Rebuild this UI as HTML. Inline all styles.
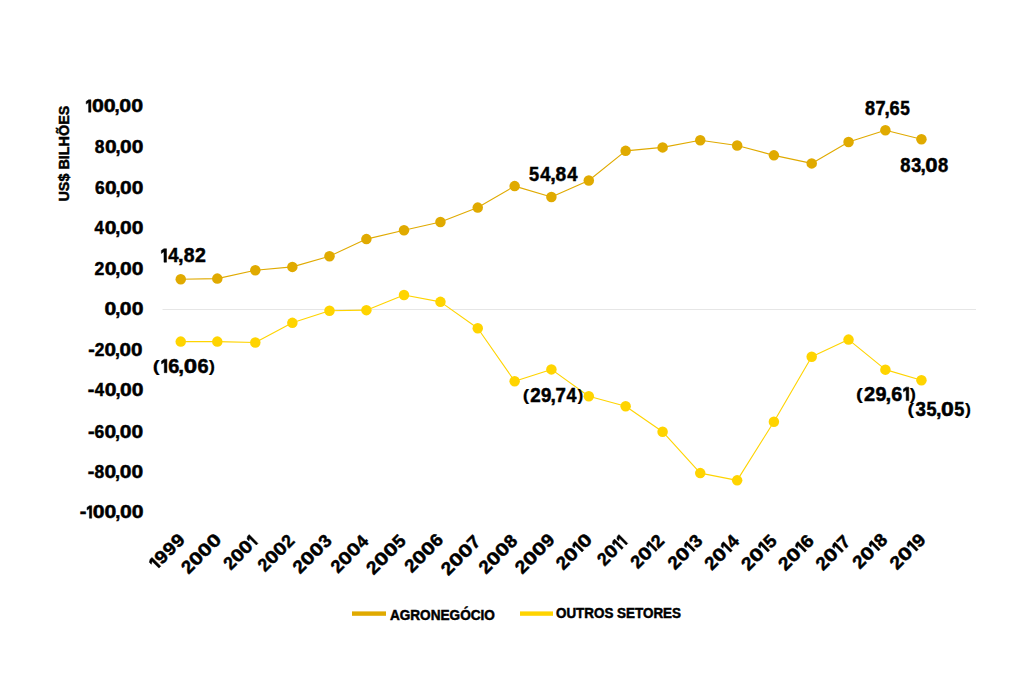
<!DOCTYPE html><html><head><meta charset="utf-8"><title>Balança comercial</title><style>html,body{margin:0;padding:0;background:#fff;}svg{display:block;}text{font-family:"Liberation Sans",sans-serif;font-weight:bold;fill:#000;stroke:#000;stroke-width:0.5px;}.g path{fill:#000;stroke:#000;stroke-width:0.5px;}.pp{stroke-width:0.2px;}</style></head><body>
<svg width="1024" height="697" viewBox="0 0 1024 697">
<rect width="1024" height="697" fill="#fff"/>
<line x1="162.5" y1="309.5" x2="976" y2="309.5" stroke="#e6e6e6" stroke-width="1"/>
<g class="g" transform="translate(142.3,112.2) scale(0.956,1) translate(-58.68,0)"><path d="M2.52 -12.42H4.95V0H2.52V-9.72L0 -8.1V-10.8Z"/><text x="5.946" y="0" font-size="18" textLength="12.431" lengthAdjust="spacingAndGlyphs">0</text><text x="18.456" y="0" font-size="18" textLength="12.431" lengthAdjust="spacingAndGlyphs">0</text><text x="29.7" y="0" font-size="18" textLength="5.361" lengthAdjust="spacingAndGlyphs">,</text><text x="34.656" y="0" font-size="18" textLength="12.431" lengthAdjust="spacingAndGlyphs">0</text><text x="47.166" y="0" font-size="18" textLength="12.431" lengthAdjust="spacingAndGlyphs">0</text></g>
<g class="g" transform="translate(142.6,152.8) scale(0.9374,1) translate(-50.4,0)"><text x="-0.556" y="0" font-size="18" textLength="10.311" lengthAdjust="spacingAndGlyphs">8</text><text x="10.176" y="0" font-size="18" textLength="12.431" lengthAdjust="spacingAndGlyphs">0</text><text x="21.42" y="0" font-size="18" textLength="5.361" lengthAdjust="spacingAndGlyphs">,</text><text x="26.376" y="0" font-size="18" textLength="12.431" lengthAdjust="spacingAndGlyphs">0</text><text x="38.886" y="0" font-size="18" textLength="12.431" lengthAdjust="spacingAndGlyphs">0</text></g>
<g class="g" transform="translate(142.6,193.9) scale(0.9374,1) translate(-50.22,0)"><text x="-0.649" y="0" font-size="18" textLength="10.318" lengthAdjust="spacingAndGlyphs">6</text><text x="9.996" y="0" font-size="18" textLength="12.431" lengthAdjust="spacingAndGlyphs">0</text><text x="21.24" y="0" font-size="18" textLength="5.361" lengthAdjust="spacingAndGlyphs">,</text><text x="26.196" y="0" font-size="18" textLength="12.431" lengthAdjust="spacingAndGlyphs">0</text><text x="38.706" y="0" font-size="18" textLength="12.431" lengthAdjust="spacingAndGlyphs">0</text></g>
<g class="g" transform="translate(142.5,234) scale(0.9412,1) translate(-50.76,0)"><text x="-0.267" y="0" font-size="18" textLength="9.914" lengthAdjust="spacingAndGlyphs">4</text><text x="10.536" y="0" font-size="18" textLength="12.431" lengthAdjust="spacingAndGlyphs">0</text><text x="21.78" y="0" font-size="18" textLength="5.361" lengthAdjust="spacingAndGlyphs">,</text><text x="26.736" y="0" font-size="18" textLength="12.431" lengthAdjust="spacingAndGlyphs">0</text><text x="39.246" y="0" font-size="18" textLength="12.431" lengthAdjust="spacingAndGlyphs">0</text></g>
<g class="g" transform="translate(142.5,275.1) scale(0.9414,1) translate(-50.22,0)"><text x="-0.656" y="0" font-size="18" textLength="10.425" lengthAdjust="spacingAndGlyphs">2</text><text x="9.996" y="0" font-size="18" textLength="12.431" lengthAdjust="spacingAndGlyphs">0</text><text x="21.24" y="0" font-size="18" textLength="5.361" lengthAdjust="spacingAndGlyphs">,</text><text x="26.196" y="0" font-size="18" textLength="12.431" lengthAdjust="spacingAndGlyphs">0</text><text x="38.706" y="0" font-size="18" textLength="12.431" lengthAdjust="spacingAndGlyphs">0</text></g>
<g class="g" transform="translate(142.6,315.2) scale(0.9459,1) translate(-39.33,0)"><text x="-0.894" y="0" font-size="18" textLength="12.431" lengthAdjust="spacingAndGlyphs">0</text><text x="10.35" y="0" font-size="18" textLength="5.361" lengthAdjust="spacingAndGlyphs">,</text><text x="15.306" y="0" font-size="18" textLength="12.431" lengthAdjust="spacingAndGlyphs">0</text><text x="27.816" y="0" font-size="18" textLength="12.431" lengthAdjust="spacingAndGlyphs">0</text></g>
<g class="g" transform="translate(141.7,356.3) scale(0.9244,1) translate(-57.06,0)"><text x="-0.847" y="0" font-size="18" textLength="7.052" lengthAdjust="spacingAndGlyphs">-</text><text x="6.184" y="0" font-size="18" textLength="10.425" lengthAdjust="spacingAndGlyphs">2</text><text x="16.836" y="0" font-size="18" textLength="12.431" lengthAdjust="spacingAndGlyphs">0</text><text x="28.08" y="0" font-size="18" textLength="5.361" lengthAdjust="spacingAndGlyphs">,</text><text x="33.036" y="0" font-size="18" textLength="12.431" lengthAdjust="spacingAndGlyphs">0</text><text x="45.546" y="0" font-size="18" textLength="12.431" lengthAdjust="spacingAndGlyphs">0</text></g>
<g class="g" transform="translate(142.7,396.4) scale(0.9418,1) translate(-57.6,0)"><text x="-0.847" y="0" font-size="18" textLength="7.052" lengthAdjust="spacingAndGlyphs">-</text><text x="6.573" y="0" font-size="18" textLength="9.914" lengthAdjust="spacingAndGlyphs">4</text><text x="17.376" y="0" font-size="18" textLength="12.431" lengthAdjust="spacingAndGlyphs">0</text><text x="28.62" y="0" font-size="18" textLength="5.361" lengthAdjust="spacingAndGlyphs">,</text><text x="33.576" y="0" font-size="18" textLength="12.431" lengthAdjust="spacingAndGlyphs">0</text><text x="46.086" y="0" font-size="18" textLength="12.431" lengthAdjust="spacingAndGlyphs">0</text></g>
<g class="g" transform="translate(142.3,437.5) scale(0.938,1) translate(-57.06,0)"><text x="-0.847" y="0" font-size="18" textLength="7.052" lengthAdjust="spacingAndGlyphs">-</text><text x="6.191" y="0" font-size="18" textLength="10.318" lengthAdjust="spacingAndGlyphs">6</text><text x="16.836" y="0" font-size="18" textLength="12.431" lengthAdjust="spacingAndGlyphs">0</text><text x="28.08" y="0" font-size="18" textLength="5.361" lengthAdjust="spacingAndGlyphs">,</text><text x="33.036" y="0" font-size="18" textLength="12.431" lengthAdjust="spacingAndGlyphs">0</text><text x="45.546" y="0" font-size="18" textLength="12.431" lengthAdjust="spacingAndGlyphs">0</text></g>
<g class="g" transform="translate(142.3,477.6) scale(0.938,1) translate(-57.24,0)"><text x="-0.847" y="0" font-size="18" textLength="7.052" lengthAdjust="spacingAndGlyphs">-</text><text x="6.284" y="0" font-size="18" textLength="10.311" lengthAdjust="spacingAndGlyphs">8</text><text x="17.016" y="0" font-size="18" textLength="12.431" lengthAdjust="spacingAndGlyphs">0</text><text x="28.26" y="0" font-size="18" textLength="5.361" lengthAdjust="spacingAndGlyphs">,</text><text x="33.216" y="0" font-size="18" textLength="12.431" lengthAdjust="spacingAndGlyphs">0</text><text x="45.726" y="0" font-size="18" textLength="12.431" lengthAdjust="spacingAndGlyphs">0</text></g>
<g class="g" transform="translate(142.7,518.2) scale(0.9488,1) translate(-65.52,0)"><text x="-0.847" y="0" font-size="18" textLength="7.052" lengthAdjust="spacingAndGlyphs">-</text><path d="M9.36 -12.42H11.79V0H9.36V-9.72L6.84 -8.1V-10.8Z"/><text x="12.786" y="0" font-size="18" textLength="12.431" lengthAdjust="spacingAndGlyphs">0</text><text x="25.296" y="0" font-size="18" textLength="12.431" lengthAdjust="spacingAndGlyphs">0</text><text x="36.54" y="0" font-size="18" textLength="5.361" lengthAdjust="spacingAndGlyphs">,</text><text x="41.496" y="0" font-size="18" textLength="12.431" lengthAdjust="spacingAndGlyphs">0</text><text x="54.006" y="0" font-size="18" textLength="12.431" lengthAdjust="spacingAndGlyphs">0</text></g>
<text transform="translate(68.8,153.6) rotate(-90)" text-anchor="middle" font-size="15" textLength="96" lengthAdjust="spacingAndGlyphs">US$ BILHÕES</text>
<g class="g" transform="translate(185.6,541.4) rotate(-45) scale(1.0752,1) translate(-37.62,0)"><path d="M2.52 -12.42H4.95V0H2.52V-9.72L0 -8.1V-10.8Z"/><text x="6.191" y="0" font-size="18" textLength="10.318" lengthAdjust="spacingAndGlyphs">9</text><text x="17.081" y="0" font-size="18" textLength="10.318" lengthAdjust="spacingAndGlyphs">9</text><text x="27.971" y="0" font-size="18" textLength="10.318" lengthAdjust="spacingAndGlyphs">9</text></g>
<g class="g" transform="translate(221.78,541.4) rotate(-45) scale(1.0,1) translate(-46.53,0)"><text x="-0.656" y="0" font-size="18" textLength="10.425" lengthAdjust="spacingAndGlyphs">2</text><text x="9.996" y="0" font-size="18" textLength="12.431" lengthAdjust="spacingAndGlyphs">0</text><text x="22.506" y="0" font-size="18" textLength="12.431" lengthAdjust="spacingAndGlyphs">0</text><text x="35.016" y="0" font-size="18" textLength="12.431" lengthAdjust="spacingAndGlyphs">0</text></g>
<g class="g" transform="translate(257.96,543.4) rotate(-45) scale(0.9308,1) translate(-40.86,0)"><text x="-0.656" y="0" font-size="18" textLength="10.425" lengthAdjust="spacingAndGlyphs">2</text><text x="9.996" y="0" font-size="18" textLength="12.431" lengthAdjust="spacingAndGlyphs">0</text><text x="22.506" y="0" font-size="18" textLength="12.431" lengthAdjust="spacingAndGlyphs">0</text><path d="M38.43 -12.42H40.86V0H38.43V-9.72L35.91 -8.1V-10.8Z"/></g>
<g class="g" transform="translate(295.14,542.4) rotate(-45) scale(0.937,1) translate(-44.91,0)"><text x="-0.656" y="0" font-size="18" textLength="10.425" lengthAdjust="spacingAndGlyphs">2</text><text x="9.996" y="0" font-size="18" textLength="12.431" lengthAdjust="spacingAndGlyphs">0</text><text x="22.506" y="0" font-size="18" textLength="12.431" lengthAdjust="spacingAndGlyphs">0</text><text x="35.254" y="0" font-size="18" textLength="10.425" lengthAdjust="spacingAndGlyphs">2</text></g>
<g class="g" transform="translate(332.32,542.4) rotate(-45) scale(1.0,1) translate(-44.91,0)"><text x="-0.656" y="0" font-size="18" textLength="10.425" lengthAdjust="spacingAndGlyphs">2</text><text x="9.996" y="0" font-size="18" textLength="12.431" lengthAdjust="spacingAndGlyphs">0</text><text x="22.506" y="0" font-size="18" textLength="12.431" lengthAdjust="spacingAndGlyphs">0</text><text x="35.455" y="0" font-size="18" textLength="10.109" lengthAdjust="spacingAndGlyphs">3</text></g>
<g class="g" transform="translate(369.5,542.4) rotate(-45) scale(0.9689,1) translate(-45.45,0)"><text x="-0.656" y="0" font-size="18" textLength="10.425" lengthAdjust="spacingAndGlyphs">2</text><text x="9.996" y="0" font-size="18" textLength="12.431" lengthAdjust="spacingAndGlyphs">0</text><text x="22.506" y="0" font-size="18" textLength="12.431" lengthAdjust="spacingAndGlyphs">0</text><text x="35.643" y="0" font-size="18" textLength="9.914" lengthAdjust="spacingAndGlyphs">4</text></g>
<g class="g" transform="translate(406.68,542.4) rotate(-45) scale(1.0316,1) translate(-44.73,0)"><text x="-0.656" y="0" font-size="18" textLength="10.425" lengthAdjust="spacingAndGlyphs">2</text><text x="9.996" y="0" font-size="18" textLength="12.431" lengthAdjust="spacingAndGlyphs">0</text><text x="22.506" y="0" font-size="18" textLength="12.431" lengthAdjust="spacingAndGlyphs">0</text><text x="35.381" y="0" font-size="18" textLength="9.808" lengthAdjust="spacingAndGlyphs">5</text></g>
<g class="g" transform="translate(443.86,541.4) rotate(-45) scale(1.0,1) translate(-44.91,0)"><text x="-0.656" y="0" font-size="18" textLength="10.425" lengthAdjust="spacingAndGlyphs">2</text><text x="9.996" y="0" font-size="18" textLength="12.431" lengthAdjust="spacingAndGlyphs">0</text><text x="22.506" y="0" font-size="18" textLength="12.431" lengthAdjust="spacingAndGlyphs">0</text><text x="35.261" y="0" font-size="18" textLength="10.318" lengthAdjust="spacingAndGlyphs">6</text></g>
<g class="g" transform="translate(481.24,543.4) rotate(-45) scale(1.0317,1) translate(-44.55,0)"><text x="-0.656" y="0" font-size="18" textLength="10.425" lengthAdjust="spacingAndGlyphs">2</text><text x="9.996" y="0" font-size="18" textLength="12.431" lengthAdjust="spacingAndGlyphs">0</text><text x="22.506" y="0" font-size="18" textLength="12.431" lengthAdjust="spacingAndGlyphs">0</text><text x="35.074" y="0" font-size="18" textLength="10.331" lengthAdjust="spacingAndGlyphs">7</text></g>
<g class="g" transform="translate(518.22,542.4) rotate(-45) scale(1.0,1) translate(-45.09,0)"><text x="-0.656" y="0" font-size="18" textLength="10.425" lengthAdjust="spacingAndGlyphs">2</text><text x="9.996" y="0" font-size="18" textLength="12.431" lengthAdjust="spacingAndGlyphs">0</text><text x="22.506" y="0" font-size="18" textLength="12.431" lengthAdjust="spacingAndGlyphs">0</text><text x="35.354" y="0" font-size="18" textLength="10.311" lengthAdjust="spacingAndGlyphs">8</text></g>
<g class="g" transform="translate(555.4,541.4) rotate(-45) scale(1.0315,1) translate(-44.91,0)"><text x="-0.656" y="0" font-size="18" textLength="10.425" lengthAdjust="spacingAndGlyphs">2</text><text x="9.996" y="0" font-size="18" textLength="12.431" lengthAdjust="spacingAndGlyphs">0</text><text x="22.506" y="0" font-size="18" textLength="12.431" lengthAdjust="spacingAndGlyphs">0</text><text x="35.261" y="0" font-size="18" textLength="10.318" lengthAdjust="spacingAndGlyphs">9</text></g>
<g class="g" transform="translate(592.58,541.4) rotate(-45) scale(1.0,1) translate(-40.86,0)"><text x="-0.656" y="0" font-size="18" textLength="10.425" lengthAdjust="spacingAndGlyphs">2</text><text x="9.996" y="0" font-size="18" textLength="12.431" lengthAdjust="spacingAndGlyphs">0</text><path d="M25.92 -12.42H28.35V0H25.92V-9.72L23.4 -8.1V-10.8Z"/><text x="29.346" y="0" font-size="18" textLength="12.431" lengthAdjust="spacingAndGlyphs">0</text></g>
<g class="g" transform="translate(627.76,543.4) rotate(-45) scale(0.9196,1) translate(-35.19,0)"><text x="-0.656" y="0" font-size="18" textLength="10.425" lengthAdjust="spacingAndGlyphs">2</text><text x="9.996" y="0" font-size="18" textLength="12.431" lengthAdjust="spacingAndGlyphs">0</text><path d="M25.92 -12.42H28.35V0H25.92V-9.72L23.4 -8.1V-10.8Z"/><path d="M32.76 -12.42H35.19V0H32.76V-9.72L30.24 -8.1V-10.8Z"/></g>
<g class="g" transform="translate(664.94,542.4) rotate(-45) scale(0.964,1) translate(-39.24,0)"><text x="-0.656" y="0" font-size="18" textLength="10.425" lengthAdjust="spacingAndGlyphs">2</text><text x="9.996" y="0" font-size="18" textLength="12.431" lengthAdjust="spacingAndGlyphs">0</text><path d="M25.92 -12.42H28.35V0H25.92V-9.72L23.4 -8.1V-10.8Z"/><text x="29.584" y="0" font-size="18" textLength="10.425" lengthAdjust="spacingAndGlyphs">2</text></g>
<g class="g" transform="translate(703.12,542.4) rotate(-45) scale(1.0,1) translate(-39.24,0)"><text x="-0.656" y="0" font-size="18" textLength="10.425" lengthAdjust="spacingAndGlyphs">2</text><text x="9.996" y="0" font-size="18" textLength="12.431" lengthAdjust="spacingAndGlyphs">0</text><path d="M25.92 -12.42H28.35V0H25.92V-9.72L23.4 -8.1V-10.8Z"/><text x="29.785" y="0" font-size="18" textLength="10.109" lengthAdjust="spacingAndGlyphs">3</text></g>
<g class="g" transform="translate(740.3,542.4) rotate(-45) scale(1.0,1) translate(-39.78,0)"><text x="-0.656" y="0" font-size="18" textLength="10.425" lengthAdjust="spacingAndGlyphs">2</text><text x="9.996" y="0" font-size="18" textLength="12.431" lengthAdjust="spacingAndGlyphs">0</text><path d="M25.92 -12.42H28.35V0H25.92V-9.72L23.4 -8.1V-10.8Z"/><text x="29.973" y="0" font-size="18" textLength="9.914" lengthAdjust="spacingAndGlyphs">4</text></g>
<g class="g" transform="translate(777.48,542.4) rotate(-45) scale(1.0362,1) translate(-39.06,0)"><text x="-0.656" y="0" font-size="18" textLength="10.425" lengthAdjust="spacingAndGlyphs">2</text><text x="9.996" y="0" font-size="18" textLength="12.431" lengthAdjust="spacingAndGlyphs">0</text><path d="M25.92 -12.42H28.35V0H25.92V-9.72L23.4 -8.1V-10.8Z"/><text x="29.711" y="0" font-size="18" textLength="9.808" lengthAdjust="spacingAndGlyphs">5</text></g>
<g class="g" transform="translate(814.66,542.4) rotate(-45) scale(1.036,1) translate(-39.24,0)"><text x="-0.656" y="0" font-size="18" textLength="10.425" lengthAdjust="spacingAndGlyphs">2</text><text x="9.996" y="0" font-size="18" textLength="12.431" lengthAdjust="spacingAndGlyphs">0</text><path d="M25.92 -12.42H28.35V0H25.92V-9.72L23.4 -8.1V-10.8Z"/><text x="29.591" y="0" font-size="18" textLength="10.318" lengthAdjust="spacingAndGlyphs">6</text></g>
<g class="g" transform="translate(851.04,543.4) rotate(-45) scale(1.0,1) translate(-38.88,0)"><text x="-0.656" y="0" font-size="18" textLength="10.425" lengthAdjust="spacingAndGlyphs">2</text><text x="9.996" y="0" font-size="18" textLength="12.431" lengthAdjust="spacingAndGlyphs">0</text><path d="M25.92 -12.42H28.35V0H25.92V-9.72L23.4 -8.1V-10.8Z"/><text x="29.404" y="0" font-size="18" textLength="10.331" lengthAdjust="spacingAndGlyphs">7</text></g>
<g class="g" transform="translate(888.02,541.4) rotate(-45) scale(1.0,1) translate(-39.42,0)"><text x="-0.656" y="0" font-size="18" textLength="10.425" lengthAdjust="spacingAndGlyphs">2</text><text x="9.996" y="0" font-size="18" textLength="12.431" lengthAdjust="spacingAndGlyphs">0</text><path d="M25.92 -12.42H28.35V0H25.92V-9.72L23.4 -8.1V-10.8Z"/><text x="29.684" y="0" font-size="18" textLength="10.311" lengthAdjust="spacingAndGlyphs">8</text></g>
<g class="g" transform="translate(926.2,541.4) rotate(-45) scale(1.036,1) translate(-39.24,0)"><text x="-0.656" y="0" font-size="18" textLength="10.425" lengthAdjust="spacingAndGlyphs">2</text><text x="9.996" y="0" font-size="18" textLength="12.431" lengthAdjust="spacingAndGlyphs">0</text><path d="M25.92 -12.42H28.35V0H25.92V-9.72L23.4 -8.1V-10.8Z"/><text x="29.591" y="0" font-size="18" textLength="10.318" lengthAdjust="spacingAndGlyphs">9</text></g>
<polyline points="180.75,279.2 217.3,278.6 255.3,270.3 292.35,266.9 329.5,256.2 366.4,239.1 404,230.2 440.45,222 477.75,207.6 514.65,186.1 551.4,197 588.8,180.5 625.65,150.85 662.6,147.4 700.25,140.3 737.15,145.45 773.9,155.35 811.7,163.4 848.55,142 885.4,130.3 921.45,139.3" fill="none" stroke="#e0aa00" stroke-width="1.1" stroke-linejoin="round"/>
<polyline points="180.75,341.6 217.3,341.6 255.3,342.5 292.35,322.85 329.5,310.8 366.4,310.15 404,295 440.45,301.85 477.75,328.2 514.65,381.2 551.4,369.4 588.8,396.2 625.65,406.2 662.6,431.7 700.25,473.1 737.15,480.35 773.9,421.7 811.7,356.7 848.55,339.6 885.4,369.65 921.45,380.3" fill="none" stroke="#ffd400" stroke-width="1.1" stroke-linejoin="round"/>
<circle cx="180.75" cy="279.2" r="5.25" fill="#e0aa00"/>
<circle cx="217.3" cy="278.6" r="5.25" fill="#e0aa00"/>
<circle cx="255.3" cy="270.3" r="5.25" fill="#e0aa00"/>
<circle cx="292.35" cy="266.9" r="5.25" fill="#e0aa00"/>
<circle cx="329.5" cy="256.2" r="5.25" fill="#e0aa00"/>
<circle cx="366.4" cy="239.1" r="5.25" fill="#e0aa00"/>
<circle cx="404" cy="230.2" r="5.25" fill="#e0aa00"/>
<circle cx="440.45" cy="222" r="5.25" fill="#e0aa00"/>
<circle cx="477.75" cy="207.6" r="5.25" fill="#e0aa00"/>
<circle cx="514.65" cy="186.1" r="5.25" fill="#e0aa00"/>
<circle cx="551.4" cy="197" r="5.25" fill="#e0aa00"/>
<circle cx="588.8" cy="180.5" r="5.25" fill="#e0aa00"/>
<circle cx="625.65" cy="150.85" r="5.25" fill="#e0aa00"/>
<circle cx="662.6" cy="147.4" r="5.25" fill="#e0aa00"/>
<circle cx="700.25" cy="140.3" r="5.25" fill="#e0aa00"/>
<circle cx="737.15" cy="145.45" r="5.25" fill="#e0aa00"/>
<circle cx="773.9" cy="155.35" r="5.25" fill="#e0aa00"/>
<circle cx="811.7" cy="163.4" r="5.25" fill="#e0aa00"/>
<circle cx="848.55" cy="142" r="5.25" fill="#e0aa00"/>
<circle cx="885.4" cy="130.3" r="5.25" fill="#e0aa00"/>
<circle cx="921.45" cy="139.3" r="5.25" fill="#e0aa00"/>
<circle cx="180.75" cy="341.6" r="5.25" fill="#ffd400"/>
<circle cx="217.3" cy="341.6" r="5.25" fill="#ffd400"/>
<circle cx="255.3" cy="342.5" r="5.25" fill="#ffd400"/>
<circle cx="292.35" cy="322.85" r="5.25" fill="#ffd400"/>
<circle cx="329.5" cy="310.8" r="5.25" fill="#ffd400"/>
<circle cx="366.4" cy="310.15" r="5.25" fill="#ffd400"/>
<circle cx="404" cy="295" r="5.25" fill="#ffd400"/>
<circle cx="440.45" cy="301.85" r="5.25" fill="#ffd400"/>
<circle cx="477.75" cy="328.2" r="5.25" fill="#ffd400"/>
<circle cx="514.65" cy="381.2" r="5.25" fill="#ffd400"/>
<circle cx="551.4" cy="369.4" r="5.25" fill="#ffd400"/>
<circle cx="588.8" cy="396.2" r="5.25" fill="#ffd400"/>
<circle cx="625.65" cy="406.2" r="5.25" fill="#ffd400"/>
<circle cx="662.6" cy="431.7" r="5.25" fill="#ffd400"/>
<circle cx="700.25" cy="473.1" r="5.25" fill="#ffd400"/>
<circle cx="737.15" cy="480.35" r="5.25" fill="#ffd400"/>
<circle cx="773.9" cy="421.7" r="5.25" fill="#ffd400"/>
<circle cx="811.7" cy="356.7" r="5.25" fill="#ffd400"/>
<circle cx="848.55" cy="339.6" r="5.25" fill="#ffd400"/>
<circle cx="885.4" cy="369.65" r="5.25" fill="#ffd400"/>
<circle cx="921.45" cy="380.3" r="5.25" fill="#ffd400"/>
<g class="g" transform="translate(183.25,262.2) scale(0.962,1) translate(-22.77,0)"><path d="M2.73 -13.455H5.363V0H2.73V-10.53L0 -8.775V-11.7Z"/><text x="7.12" y="0" font-size="19.5" textLength="10.741" lengthAdjust="spacingAndGlyphs">4</text><text x="17.453" y="0" font-size="19.5" textLength="5.808" lengthAdjust="spacingAndGlyphs">,</text><text x="23.187" y="0" font-size="19.5" textLength="11.171" lengthAdjust="spacingAndGlyphs">8</text><text x="35.072" y="0" font-size="19.5" textLength="11.294" lengthAdjust="spacingAndGlyphs">2</text></g>
<g class="g" transform="translate(553.5,181.3) scale(0.9531,1) translate(-25.16,0)"><text x="-0.573" y="0" font-size="19.5" textLength="10.625" lengthAdjust="spacingAndGlyphs">5</text><text x="11.313" y="0" font-size="19.5" textLength="10.741" lengthAdjust="spacingAndGlyphs">4</text><text x="21.645" y="0" font-size="19.5" textLength="5.808" lengthAdjust="spacingAndGlyphs">,</text><text x="27.38" y="0" font-size="19.5" textLength="11.171" lengthAdjust="spacingAndGlyphs">8</text><text x="39.685" y="0" font-size="19.5" textLength="10.741" lengthAdjust="spacingAndGlyphs">4</text></g>
<g class="g" transform="translate(887.5,114.5) scale(0.9026,1) translate(-24.38,0)"><text x="-0.603" y="0" font-size="19.5" textLength="11.171" lengthAdjust="spacingAndGlyphs">8</text><text x="11.087" y="0" font-size="19.5" textLength="11.192" lengthAdjust="spacingAndGlyphs">7</text><text x="21.06" y="0" font-size="19.5" textLength="5.808" lengthAdjust="spacingAndGlyphs">,</text><text x="26.694" y="0" font-size="19.5" textLength="11.177" lengthAdjust="spacingAndGlyphs">6</text><text x="38.622" y="0" font-size="19.5" textLength="10.625" lengthAdjust="spacingAndGlyphs">5</text></g>
<g class="g" transform="translate(924.25,171.5) scale(0.9154,1) translate(-25.64,0)"><text x="-0.603" y="0" font-size="19.5" textLength="11.171" lengthAdjust="spacingAndGlyphs">8</text><text x="11.5" y="0" font-size="19.5" textLength="10.952" lengthAdjust="spacingAndGlyphs">3</text><text x="21.45" y="0" font-size="19.5" textLength="5.808" lengthAdjust="spacingAndGlyphs">,</text><text x="26.819" y="0" font-size="19.5" textLength="13.467" lengthAdjust="spacingAndGlyphs">0</text><text x="40.737" y="0" font-size="19.5" textLength="11.171" lengthAdjust="spacingAndGlyphs">8</text></g>
<g class="g" transform="translate(184,372.7) scale(0.9935,1) translate(-30.37,0)"><g transform="translate(0,-0.877) scale(1,0.86)"><text class="pp" x="-1.045" y="0" font-size="19.5" textLength="6.957" lengthAdjust="spacingAndGlyphs">(</text></g><path d="M10.53 -13.455H13.163V0H10.53V-10.53L7.8 -8.775V-11.7Z"/><text x="14.506" y="0" font-size="19.5" textLength="11.177" lengthAdjust="spacingAndGlyphs">6</text><text x="24.668" y="0" font-size="19.5" textLength="5.808" lengthAdjust="spacingAndGlyphs">,</text><text x="30.036" y="0" font-size="19.5" textLength="13.467" lengthAdjust="spacingAndGlyphs">0</text><text x="43.854" y="0" font-size="19.5" textLength="11.177" lengthAdjust="spacingAndGlyphs">6</text><g transform="translate(0,-0.877) scale(1,0.86)"><text class="pp" x="55.383" y="0" font-size="19.5" textLength="6.262" lengthAdjust="spacingAndGlyphs">)</text></g></g>
<g class="g" transform="translate(553,401.9) scale(0.9253,1) translate(-31.79,0)"><g transform="translate(0,-0.877) scale(1,0.86)"><text class="pp" x="-1.045" y="0" font-size="19.5" textLength="6.957" lengthAdjust="spacingAndGlyphs">(</text></g><text x="7.089" y="0" font-size="19.5" textLength="11.294" lengthAdjust="spacingAndGlyphs">2</text><text x="18.894" y="0" font-size="19.5" textLength="11.177" lengthAdjust="spacingAndGlyphs">9</text><text x="29.055" y="0" font-size="19.5" textLength="5.808" lengthAdjust="spacingAndGlyphs">,</text><text x="34.487" y="0" font-size="19.5" textLength="11.192" lengthAdjust="spacingAndGlyphs">7</text><text x="46.51" y="0" font-size="19.5" textLength="10.741" lengthAdjust="spacingAndGlyphs">4</text><g transform="translate(0,-0.877) scale(1,0.86)"><text class="pp" x="58.211" y="0" font-size="19.5" textLength="6.262" lengthAdjust="spacingAndGlyphs">)</text></g></g>
<g class="g" transform="translate(886,400.6) scale(0.9865,1) translate(-29.49,0)"><g transform="translate(0,-0.877) scale(1,0.86)"><text class="pp" x="-1.045" y="0" font-size="19.5" textLength="6.957" lengthAdjust="spacingAndGlyphs">(</text></g><text x="7.089" y="0" font-size="19.5" textLength="11.294" lengthAdjust="spacingAndGlyphs">2</text><text x="18.894" y="0" font-size="19.5" textLength="11.177" lengthAdjust="spacingAndGlyphs">9</text><text x="29.055" y="0" font-size="19.5" textLength="5.808" lengthAdjust="spacingAndGlyphs">,</text><text x="34.689" y="0" font-size="19.5" textLength="11.177" lengthAdjust="spacingAndGlyphs">6</text><path d="M49.92 -13.455H52.552V0H49.92V-10.53L47.19 -8.775V-11.7Z"/><g transform="translate(0,-0.877) scale(1,0.86)"><text class="pp" x="53.628" y="0" font-size="19.5" textLength="6.262" lengthAdjust="spacingAndGlyphs">)</text></g></g>
<g class="g" transform="translate(939.25,415.9) scale(0.9511,1) translate(-32.37,0)"><g transform="translate(0,-0.877) scale(1,0.86)"><text class="pp" x="-1.045" y="0" font-size="19.5" textLength="6.957" lengthAdjust="spacingAndGlyphs">(</text></g><text x="7.308" y="0" font-size="19.5" textLength="10.952" lengthAdjust="spacingAndGlyphs">3</text><text x="19.024" y="0" font-size="19.5" textLength="10.625" lengthAdjust="spacingAndGlyphs">5</text><text x="28.86" y="0" font-size="19.5" textLength="5.808" lengthAdjust="spacingAndGlyphs">,</text><text x="34.229" y="0" font-size="19.5" textLength="13.467" lengthAdjust="spacingAndGlyphs">0</text><text x="48.177" y="0" font-size="19.5" textLength="10.625" lengthAdjust="spacingAndGlyphs">5</text><g transform="translate(0,-0.877) scale(1,0.86)"><text class="pp" x="59.381" y="0" font-size="19.5" textLength="6.262" lengthAdjust="spacingAndGlyphs">)</text></g></g>
<rect x="352" y="611.4" width="34" height="4.4" fill="#e0aa00"/>
<text x="389.9" y="620.2" font-size="14.5" textLength="105.0" lengthAdjust="spacingAndGlyphs">AGRONEGÓCIO</text>
<rect x="520" y="611.4" width="33" height="4.4" fill="#ffd400"/>
<text x="556.0" y="617.9" font-size="14.5" textLength="125.0" lengthAdjust="spacingAndGlyphs">OUTROS SETORES</text>
</svg></body></html>
